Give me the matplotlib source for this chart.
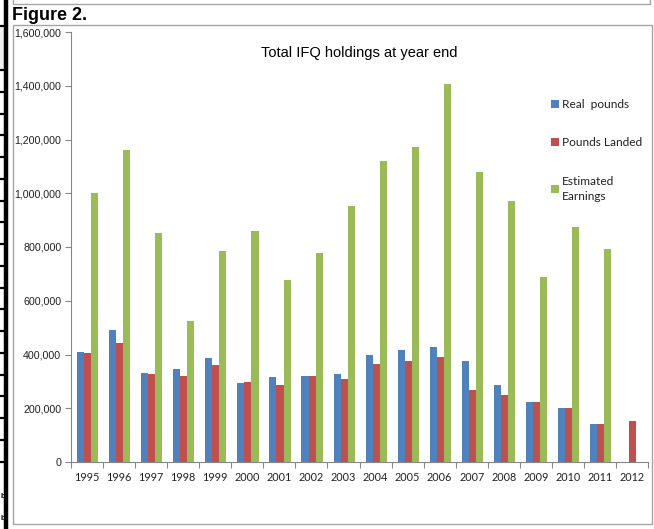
import matplotlib
matplotlib.use("Agg")
import matplotlib.pyplot as plt
import numpy as np
from matplotlib.patches import Rectangle, Patch

years = ["1995", "1996", "1997", "1998", "1999", "2000", "2001", "2002", "2003",
         "2004", "2005", "2006", "2007", "2008", "2009", "2010", "2011", "2012"]
real_pounds = [410000, 491000, 332000, 347000, 387000, 295000, 318000, 320000, 326000,
               399000, 417000, 429000, 376000, 286000, 223000, 201000, 141000, np.nan]
pounds_landed = [404000, 443000, 326000, 319000, 360000, 296000, 288000, 319000, 309000,
                 365000, 375000, 392000, 268000, 250000, 222000, 201000, 141000, 151000]
est_earnings = [1001000, 1161000, 852000, 525000, 785000, 860000, 677000, 778000, 953000,
                1120000, 1172000, 1406000, 1079000, 971000, 688000, 874000, 793000, np.nan]
series_labels = ["Real  pounds", "Pounds Landed", "Estimated\nEarnings"]
colors = ["#4F81BD", "#C0504D", "#9BBB59"]
yticks = [0, 200000, 400000, 600000, 800000, 1000000, 1200000, 1400000, 1600000]

W, H = 654, 529
fig = plt.figure(figsize=(W / 100, H / 100), dpi=100)

# overlay for page decorations (pixel coordinates)
deco = fig.add_axes([0, 0, 1, 1])
deco.set_xlim(0, W)
deco.set_ylim(H, 0)
deco.axis("off")
deco.add_patch(Rectangle((0, 26), 4, 44, facecolor="#efefef", edgecolor="none"))
deco.plot([5.5, 5.5], [0, H], color="black", lw=3.2, solid_capstyle="butt")
for yy in [26] + list(70 + 21.75 * np.arange(19)):
    deco.plot([0, 5], [yy, yy], color="black", lw=1.6)
deco.text(0.3, 496, "b", fontsize=5.5, fontweight="bold", family="Liberation Sans", va="center")
deco.text(0.3, 518, "b", fontsize=5.5, fontweight="bold", family="Liberation Sans", va="center")
# top box
deco.plot([12.5, 12.5, 650, 650], [0, 4, 4, 0], color="#a6a6a6", lw=1)
# chart area box
deco.add_patch(Rectangle((12.5, 25), 639.5, 498.5, facecolor="none", edgecolor="#a6a6a6", lw=1))
deco.text(12, 20, "Figure 2.", fontsize=13, fontweight="bold", family="Liberation Sans",
          va="baseline", ha="left")

left, right, top, bottom = 71, 648, 32, 462
ax = fig.add_axes([left / W, 1 - bottom / H, (right - left) / W, (bottom - top) / H])
x = np.arange(len(years))
bw = 0.22
for i, (vals, c, lab) in enumerate(zip([real_pounds, pounds_landed, est_earnings], colors, series_labels)):
    ax.bar(x + (i - 1) * bw + 0.02, vals, width=bw, color=c, edgecolor="none", label=lab)

ax.set_xlim(-0.5, len(years) - 0.5)
ax.set_ylim(0, 1600000)
ax.set_yticks(yticks)
ax.set_yticklabels([f"{v:,}" for v in yticks], fontsize=7.7, family="Liberation Sans", color="#222222")
ax.set_xticks(x)
ax.set_xticklabels(years, fontsize=7.8, family="Lato", color="#222222")
ax.set_xticks(np.arange(-0.5, len(years)), minor=True)
ax.tick_params(axis="x", which="major", length=0, pad=7)
ax.tick_params(axis="x", which="minor", length=4, color="#868686", width=0.8)
ax.tick_params(axis="y", length=4, color="#868686", width=0.8, pad=3)
for s in ["top", "right"]:
    ax.spines[s].set_visible(False)
ax.spines["left"].set_color("#868686")
ax.spines["bottom"].set_color("#868686")
ax.spines["left"].set_linewidth(0.8)
ax.spines["bottom"].set_linewidth(0.8)

ax.text(0.5, 1 - (53 - top) / (bottom - top), "Total IFQ holdings at year end",
        transform=ax.transAxes, ha="center", va="center", fontsize=10.5, family="Liberation Sans")

handles = [Patch(facecolor=c, edgecolor="none") for c in colors]
leg = fig.legend(handles, series_labels, loc="upper left", bbox_to_anchor=(551 / W, 1 - 99 / H),
                 frameon=False, prop={"family": "Lato", "size": 8.6},
                 handlelength=0.65, handleheight=0.65, handletextpad=0.25, labelspacing=2.3,
                 borderpad=0, borderaxespad=0)
for t in leg.get_texts():
    t.set_color("#222222")
    t.set_linespacing(1.45)

fig.savefig("out.png", dpi=100)
